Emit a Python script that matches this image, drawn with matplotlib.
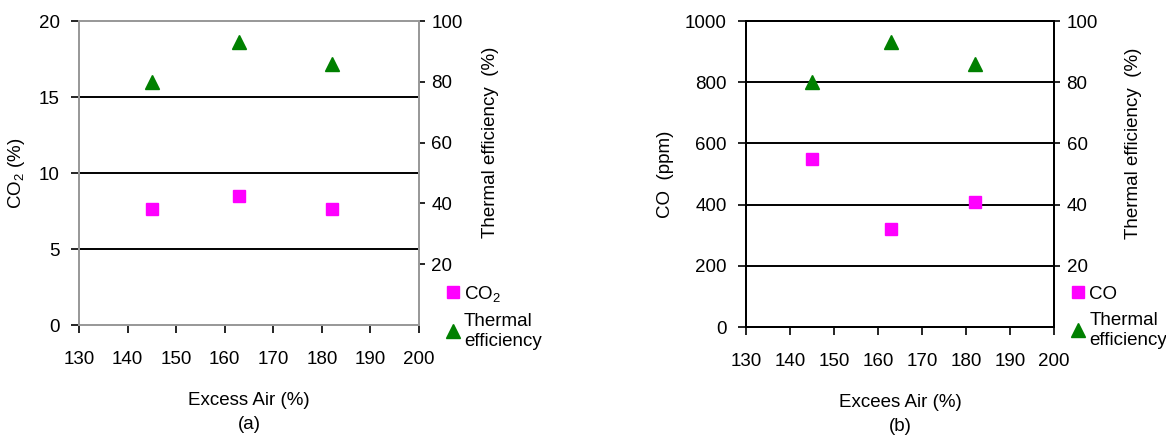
import matplotlib.pyplot as plt
from matplotlib.lines import Line2D

plt.rcParams['font.family'] = ['Liberation Sans', 'DejaVu Sans']
plt.rcParams['mathtext.default'] = 'regular'

# data
excess_air = [145, 163, 182]
co2 = [7.6, 8.5, 7.6]
co = [550, 320, 410]
eff_a = [80, 93, 86]
eff_b = [80, 93, 86]

x_ticks = [130, 140, 150, 160, 170, 180, 190, 200]
eff_ticks = [20, 40, 60, 80, 100]

FS = 13.5
MAGENTA = '#ff00ff'
GREEN = '#008000'

fig = plt.figure(figsize=(11.66, 4.36), dpi=100)


def panel(rect, yvals, yticks, ylim, ylabel, xlabel, eff, first_label,
          spine_col, yticks_grid, rlabel_x, leg_x):
    ax = fig.add_axes(rect)
    ax2 = ax.twinx()
    ax.set_xlim(130, 200)
    ax.set_ylim(*ylim)
    ax2.set_ylim(0, 100)
    ax.set_xticks(x_ticks)
    ax.set_yticks(yticks)
    ax2.set_yticks(eff_ticks)

    for g in yticks_grid:
        ax.axhline(g, color='black', lw=1.4, zorder=1)

    for a in (ax, ax2):
        for s in a.spines.values():
            s.set_color(spine_col)
            s.set_linewidth(1.4)

    ax.plot(excess_air, yvals, 's', color=MAGENTA, ms=9, zorder=3)
    ax2.plot(excess_air, eff, '^', color=GREEN, ms=10, zorder=3)

    ax.tick_params(axis='x', direction='out', length=6, width=1.2,
                   color='black', labelsize=FS, pad=13)
    ax.tick_params(axis='y', direction='out', length=6, width=1.2,
                   color='black', labelsize=FS, pad=8)
    ax2.tick_params(axis='y', direction='out', length=4, width=1.2,
                    color='black', labelsize=FS, pad=5)

    ax.set_ylabel(ylabel, fontsize=FS, labelpad=8)
    ax2.set_ylabel('Thermal efficiency  (%)', fontsize=FS)
    ax2.yaxis.set_label_coords(rlabel_x, 0.6)
    ax.set_xlabel(xlabel, fontsize=FS, labelpad=17, linespacing=1.5)

    handles = [
        Line2D([], [], marker='s', color=MAGENTA, ls='none', ms=9),
        Line2D([], [], marker='^', color=GREEN, ls='none', ms=10),
    ]
    ax2.legend(handles, [first_label, 'Thermal\nefficiency'],
               loc='upper left', bbox_to_anchor=(leg_x, 0.16),
               frameon=False, fontsize=FS, handlelength=0.8,
               handletextpad=0.2, labelspacing=0.5, borderaxespad=0)
    return ax


panel([79 / 1166, 1 - 325 / 436, 340 / 1166, 304 / 436],
      co2, [0, 5, 10, 15, 20], (0, 20), 'CO$_2$ (%)',
      'Excess Air (%)\n(a)', eff_a, 'CO$_2$', '#999999', [5, 10, 15],
      1.185, 1.055)

panel([746 / 1166, 1 - 327 / 436, 308 / 1166, 306 / 436],
      co, [0, 200, 400, 600, 800, 1000], (0, 1000), 'CO  (ppm)',
      'Excees Air (%)\n(b)', eff_b, 'CO', 'black', [200, 400, 600, 800],
      1.23, 1.03)

fig.savefig('out.png', dpi=100)
